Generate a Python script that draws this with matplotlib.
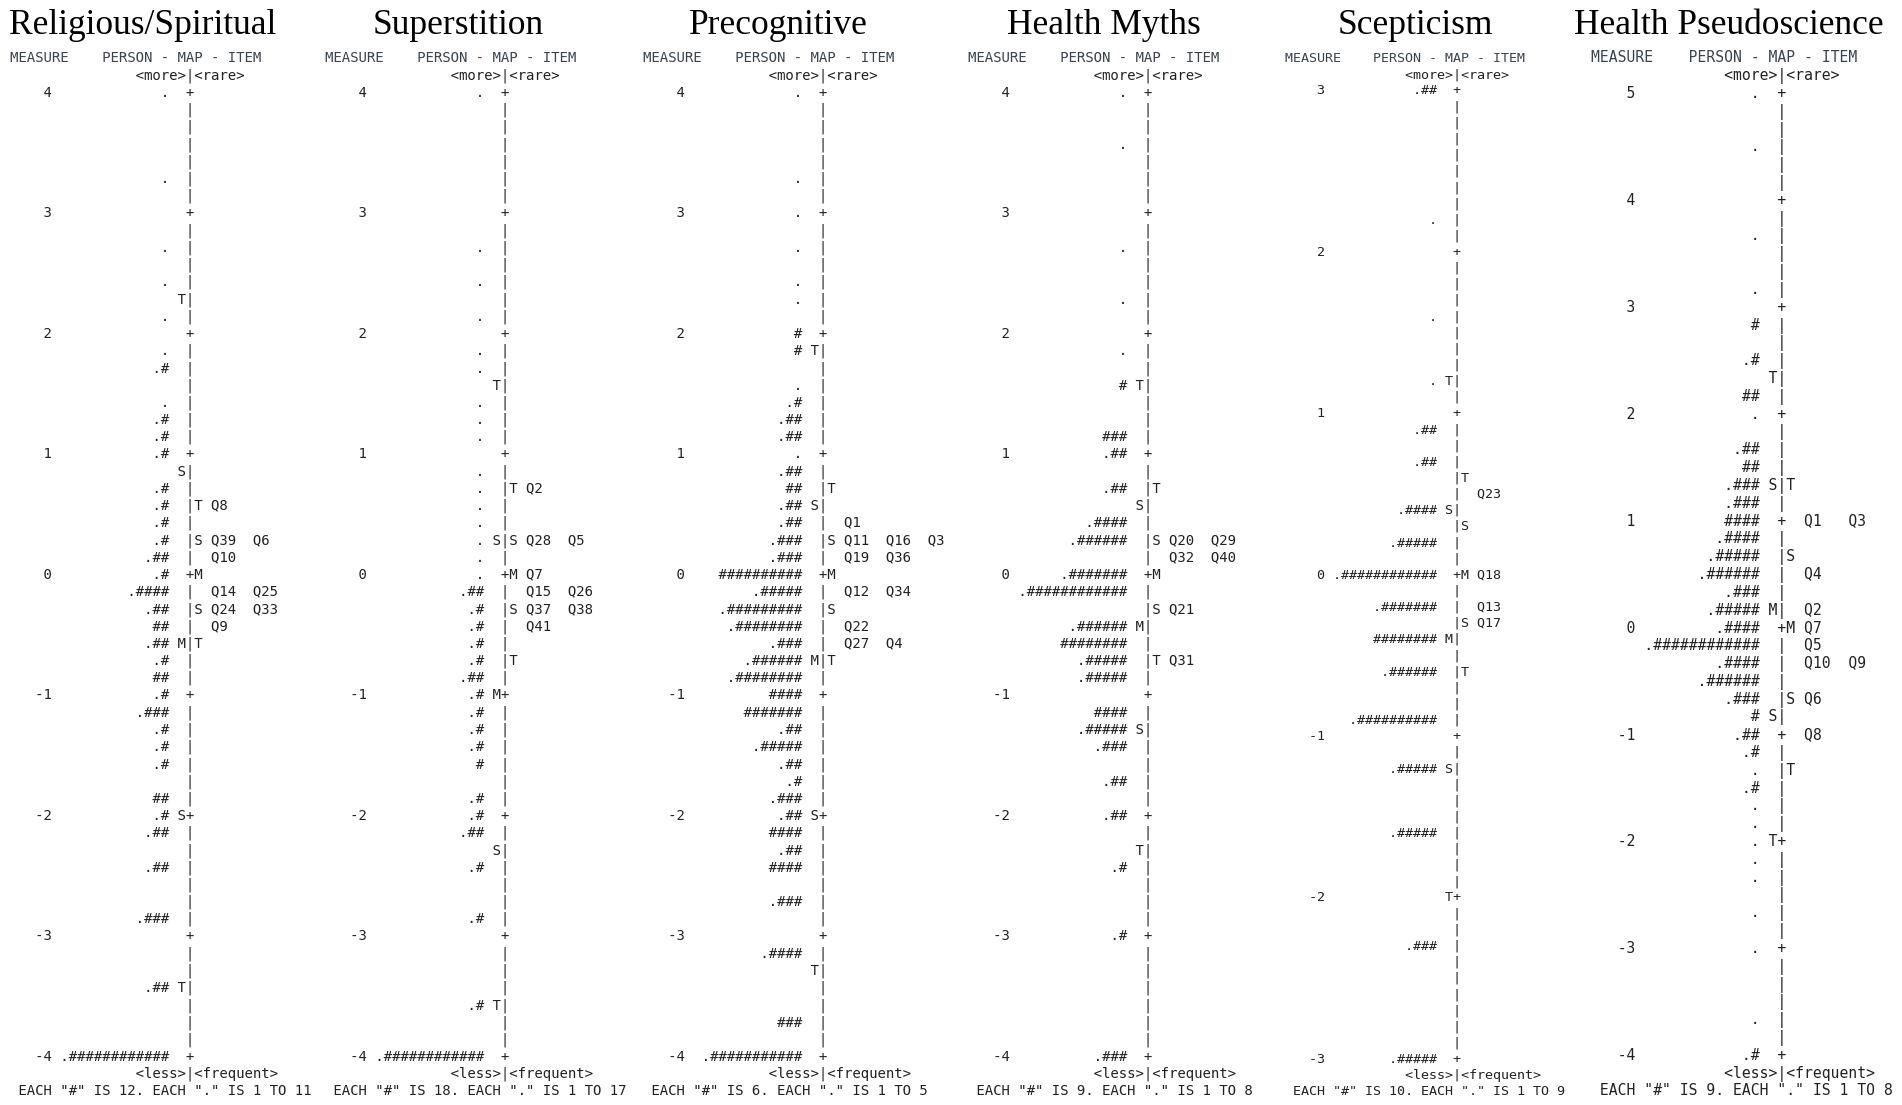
import matplotlib
matplotlib.use('Agg')
import matplotlib.pyplot as plt

# ---------------- data ----------------
titles = ['Religious/Spiritual', 'Superstition', 'Precognitive',
          'Health Myths', 'Scepticism', 'Health Pseudoscience']
measure_top = [4, 4, 4, 4, 3, 5]
measure_bottom = [-4, -4, -4, -4, -3, -4]
rows_per_unit = [7, 7, 7, 7, 10, 6]

# person distribution strings (row index from top -> string)
persons_rel = {0: '.', 5: '.', 9: '.', 11: '.', 13: '.', 15: '.', 16: '.#', 18: '.',
               19: '.#', 20: '.#', 21: '.#', 23: '.#', 24: '.#', 25: '.#', 26: '.#',
               27: '.##', 28: '.#', 29: '.####', 30: '.##', 31: '##', 32: '.##', 33: '.#',
               34: '##', 35: '.#', 36: '.###', 37: '.#', 38: '.#', 39: '.#', 41: '##',
               42: '.#', 43: '.##', 45: '.##', 48: '.###', 52: '.##', 56: '.############'}
persons_sup = {0: '.', 9: '.', 11: '.', 13: '.', 15: '.', 16: '.', 18: '.', 19: '.', 20: '.',
               22: '.', 23: '.', 24: '.', 25: '.', 26: '.', 27: '.', 28: '.', 29: '.##',
               30: '.#', 31: '.#', 32: '.#', 33: '.#', 34: '.##', 35: '.#', 36: '.#', 37: '.#',
               38: '.#', 39: '#', 41: '.#', 42: '.#', 43: '.##', 45: '.#', 48: '.#', 53: '.#',
               56: '.############'}
persons_pre = {0: '.', 5: '.', 7: '.', 9: '.', 11: '.', 12: '.', 14: '#', 15: '#', 17: '.',
               18: '.#', 19: '.##', 20: '.##', 21: '.', 22: '.##', 23: '##', 24: '.##',
               25: '.##', 26: '.###', 27: '.###', 28: '##########', 29: '.#####',
               30: '.#########', 31: '.########', 32: '.###', 33: '.######', 34: '.########',
               35: '####', 36: '#######', 37: '.##', 38: '.#####', 39: '.##', 40: '.#',
               41: '.###', 42: '.##', 43: '####', 44: '.##', 45: '####', 47: '.###',
               50: '.####', 54: '###', 56: '.###########'}
persons_hm = {0: '.', 3: '.', 9: '.', 12: '.', 15: '.', 17: '#', 20: '###', 21: '.##',
              23: '.##', 25: '.####', 26: '.######', 28: '.#######', 29: '.############',
              31: '.######', 32: '########', 33: '.#####', 34: '.#####', 36: '####',
              37: '.#####', 38: '.###', 40: '.##', 42: '.##', 45: '.#', 49: '.#', 56: '.###'}
persons_sce = {0: '.##', 8: '.', 14: '.', 18: '.', 21: '.##', 23: '.##', 26: '.####',
               28: '.#####', 30: '.############', 32: '.#######', 34: '########',
               36: '.######', 39: '.##########', 42: '.#####', 46: '.#####', 53: '.###',
               60: '.#####'}
persons_hp = {0: '.', 3: '.', 8: '.', 11: '.', 13: '#', 15: '.#', 17: '##', 18: '.', 20: '.##',
              21: '##', 22: '.###', 23: '.###', 24: '####', 25: '.####', 26: '.#####',
              27: '.######', 28: '.###', 29: '.#####', 30: '.####', 31: '.############',
              32: '.####', 33: '.######', 34: '.###', 35: '#', 36: '.##', 37: '.#', 38: '.',
              39: '.#', 40: '.', 41: '.', 42: '.', 43: '.', 44: '.', 46: '.', 48: '.', 52: '.',
              54: '.#'}
persons = [persons_rel, persons_sup, persons_pre, persons_hm, persons_sce, persons_hp]

person_marks = [{12: 'T', 22: 'S', 32: 'M', 42: 'S', 52: 'T'},
                {17: 'T', 26: 'S', 35: 'M', 44: 'S', 53: 'T'},
                {15: 'T', 24: 'S', 33: 'M', 42: 'S', 51: 'T'},
                {17: 'T', 24: 'S', 31: 'M', 37: 'S', 44: 'T'},
                {18: 'T', 26: 'S', 34: 'M', 42: 'S', 50: 'T'},
                {16: 'T', 22: 'S', 29: 'M', 35: 'S', 42: 'T'}]
item_marks = [{24: 'T', 26: 'S', 28: 'M', 30: 'S', 32: 'T'},
              {23: 'T', 26: 'S', 28: 'M', 30: 'S', 33: 'T'},
              {23: 'T', 26: 'S', 28: 'M', 30: 'S', 33: 'T'},
              {23: 'T', 26: 'S', 28: 'M', 30: 'S', 33: 'T'},
              {24: 'T', 27: 'S', 30: 'M', 33: 'S', 36: 'T'},
              {22: 'T', 26: 'S', 30: 'M', 34: 'S', 38: 'T'}]
items = [{24: ['Q8'], 26: ['Q39', 'Q6'], 27: ['Q10'], 29: ['Q14', 'Q25'],
          30: ['Q24', 'Q33'], 31: ['Q9']},
         {23: ['Q2'], 26: ['Q28', 'Q5'], 28: ['Q7'], 29: ['Q15', 'Q26'],
          30: ['Q37', 'Q38'], 31: ['Q41']},
         {25: ['Q1'], 26: ['Q11', 'Q16', 'Q3'], 27: ['Q19', 'Q36'], 29: ['Q12', 'Q34'],
          31: ['Q22'], 32: ['Q27', 'Q4']},
         {26: ['Q20', 'Q29'], 27: ['Q32', 'Q40'], 30: ['Q21'], 33: ['Q31']},
         {25: ['Q23'], 30: ['Q18'], 32: ['Q13'], 33: ['Q17']},
         {24: ['Q1', 'Q3'], 27: ['Q4'], 29: ['Q2'], 30: ['Q7'], 31: ['Q5'],
          32: ['Q10', 'Q9'], 34: ['Q6'], 36: ['Q8']}]
footers = ['EACH "#" IS 12. EACH "." IS 1 TO 11',
           'EACH "#" IS 18. EACH "." IS 1 TO 17',
           'EACH "#" IS 6. EACH "." IS 1 TO 5',
           'EACH "#" IS 9. EACH "." IS 1 TO 8',
           'EACH "#" IS 10. EACH "." IS 1 TO 9',
           'EACH "#" IS 9. EACH "." IS 1 TO 8']
header_1 = 'MEASURE    PERSON - MAP - ITEM'
header_2 = '<more>|<rare>'
footer_1 = '<less>|<frequent>'

# ---------------- layout ----------------
W, H = 1902, 1105
panel_x0 = [10, 325, 643, 968, 1285, 1591]
char_w = [8.45, 8.45, 8.45, 8.45, 8.05, 8.9]
title_cx = [143, 458, 778, 1104, 1415, 1729]
title_base = 34
y_first, y_last = 57, 1090
text_color = '#222222'
header_color = '#3a4450'
mono = 'DejaVu Sans Mono'


def build_lines(p):
    top, bot, rpu = measure_top[p], measure_bottom[p], rows_per_unit[p]
    n = (top - bot) * rpu + 1
    out = [header_1, ' ' * 15 + header_2]
    for r in range(n):
        ch = [' '] * 45

        def put(c, s):
            for k, s_ in enumerate(s):
                ch[c + k] = s_
        if r % rpu == 0:
            put(0, '%5d' % (top - r // rpu))
            axis_c = '+'
        else:
            axis_c = '|'
        s = persons[p].get(r, '')
        if s:
            put(19 - len(s), s)
        if r in person_marks[p]:
            put(20, person_marks[p][r])
        put(21, axis_c)
        if r in item_marks[p]:
            put(22, item_marks[p][r])
        for k, q in enumerate(items[p].get(r, [])):
            put(24 + 5 * k, q)
        out.append(''.join(ch).rstrip())
    out += [' ' * 15 + footer_1, ' ' + footers[p]]
    return out


fig = plt.figure(figsize=(W / 100, H / 100), dpi=100)
ax = fig.add_axes([0, 0, 1, 1])
ax.set_xlim(0, W)
ax.set_ylim(H, 0)
ax.axis('off')

for p in range(6):
    lines = build_lines(p)
    nl = len(lines)
    dy = (y_last - y_first) / (nl - 1)
    fs_pt = char_w[p] / 0.6021 * 0.72
    em_px = fs_pt / 0.72
    for i, ln in enumerate(lines):
        yb = y_first + i * dy + 0.365 * em_px
        col = header_color if i == 0 else text_color
        ax.text(panel_x0[p], yb, ln, family=mono, fontsize=fs_pt,
                color=col, ha='left', va='baseline')
    ax.text(title_cx[p], title_base, titles[p], family='Liberation Serif',
            fontsize=25.5, color='black', ha='center', va='baseline')

fig.savefig('out.png', dpi=100, facecolor='white')
